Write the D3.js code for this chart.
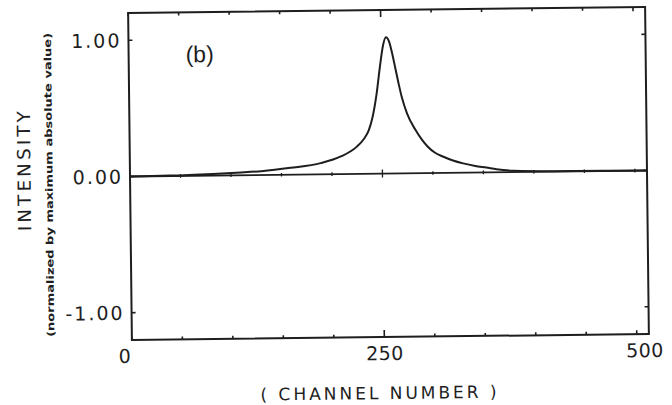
<!DOCTYPE html>
<html>
<head>
<meta charset="utf-8">
<script src="https://cdn.jsdelivr.net/npm/d3@7/dist/d3.min.js"></script>
<style>
  html, body { margin: 0; padding: 0; background: #fff; }
  svg { display: block; }
</style>
</head>
<body>
<svg id="chart" width="672" height="405"></svg>
<script>
// Spectrum (b): intensity per channel, normalised by the maximum absolute value
const channels  = [0, 40, 82, 110, 130, 159, 189, 209, 225, 232, 237, 241, 245, 249, 252, 255, 258, 261, 264, 267, 270, 275, 283, 290, 295, 302, 310, 320, 330, 342, 353, 363, 380, 420, 470, 512];
const intensity = [0, 0.003, 0.012, 0.02, 0.028, 0.05, 0.082, 0.129, 0.20, 0.255, 0.32, 0.42, 0.58, 0.80, 0.94, 1.0, 0.97, 0.88, 0.77, 0.66, 0.56, 0.44, 0.32, 0.24, 0.195, 0.15, 0.12, 0.09, 0.068, 0.048, 0.035, 0.022, 0.01, 0.003, 0.001, 0];

// Axis ticks and labels
const xMinorTicks = [0, 50, 100, 150, 200, 250, 300, 350, 400, 450, 500];
const xLabelTicks = [0, 250, 500];
const yTicks      = [1, 0, -1];
const yTickLabels = ["1.00", "0.00", "-1.00"];
const panelLabel  = "(b)";
const xTitle      = "( CHANNEL NUMBER )";
const yTitle      = "INTENSITY";
const ySubtitle   = "(normalized by maximum absolute value)";

const ink = "#1e1e1e";
const font = "'DejaVu Sans', sans-serif";

const svg = d3.select("#chart");
const plot = { left: 130, right: 647, top: 10, bottom: 337 };

const x = d3.scaleLinear().domain([0, 512]).range([plot.left, plot.right]);
const y = d3.scaleLinear().domain([-1.2, 1.2]).range([plot.bottom, plot.top]);
// label positions along the bottom edge as the plotter set them
const xLab = d3.scaleLinear().domain([0, 500]).range([x(0) - 7, x(500) + 8]);

// the whole sheet sits slightly tilted
const g = svg.append("g")
  .attr("transform", `rotate(-0.66, ${(plot.left + plot.right) / 2}, ${y(0)})`);

// frame
g.append("rect")
  .attr("x", plot.left).attr("y", plot.top)
  .attr("width", plot.right - plot.left).attr("height", plot.bottom - plot.top)
  .attr("fill", "none").attr("stroke", ink).attr("stroke-width", 2);

// inward ticks on bottom and top edges
const tickLen = d => d === 250 ? 7 : (d === 500 ? 4 : 3);
g.append("g").selectAll("line").data(xMinorTicks).join("line")
  .attr("x1", d => x(d)).attr("x2", d => x(d))
  .attr("y1", plot.bottom).attr("y2", d => plot.bottom - tickLen(d))
  .attr("stroke", ink).attr("stroke-width", 1.6);
g.append("g").selectAll("line").data(xMinorTicks).join("line")
  .attr("x1", d => x(d)).attr("x2", d => x(d))
  .attr("y1", plot.top).attr("y2", d => plot.top + tickLen(d))
  .attr("stroke", ink).attr("stroke-width", 1.6);

// inward ticks on left and right edges
g.append("g").selectAll("line").data(yTicks).join("line")
  .attr("x1", plot.left).attr("x2", plot.left + 4)
  .attr("y1", d => y(d)).attr("y2", d => y(d))
  .attr("stroke", ink).attr("stroke-width", 1.6);
g.append("g").selectAll("line").data(yTicks).join("line")
  .attr("x1", plot.right).attr("x2", plot.right - 4)
  .attr("y1", d => y(d)).attr("y2", d => y(d))
  .attr("stroke", ink).attr("stroke-width", 1.6);

// zero line with its small ticks
g.append("line")
  .attr("x1", plot.left).attr("x2", plot.right)
  .attr("y1", y(0)).attr("y2", y(0))
  .attr("stroke", ink).attr("stroke-width", 1.8);
g.append("g").selectAll("line").data(xMinorTicks.filter(d => d > 0)).join("line")
  .attr("x1", d => x(d)).attr("x2", d => x(d))
  .attr("y1", d => y(0) - (d === 250 ? 4 : 1.8))
  .attr("y2", d => y(0) + (d === 250 ? 4 : 1.8))
  .attr("stroke", ink).attr("stroke-width", 1.3);

// spectrum curve
const line = d3.line()
  .x((d, i) => x(channels[i]))
  .y(d => y(d))
  .curve(d3.curveMonotoneX);
g.append("path")
  .datum(intensity)
  .attr("d", line)
  .attr("fill", "none").attr("stroke", ink)
  .attr("stroke-width", 2).attr("stroke-linejoin", "round");

// y tick labels
g.append("g").selectAll("text").data(yTicks).join("text")
  .attr("x", plot.left - 7)
  .attr("y", d => y(d) + 7)
  .attr("text-anchor", "end")
  .attr("font-family", font).attr("font-size", 19)
  .attr("letter-spacing", 2)
  .attr("fill", ink)
  .text((d, i) => yTickLabels[i]);

// x tick labels
g.append("g").selectAll("text").data(xLabelTicks).join("text")
  .attr("x", d => xLab(d))
  .attr("y", 360)
  .attr("text-anchor", "middle")
  .attr("font-family", font).attr("font-size", 19)
  .attr("letter-spacing", 0.5)
  .attr("fill", ink)
  .text(d => d);

// x title
g.append("text")
  .attr("x", 258).attr("y", 399)
  .attr("textLength", 236).attr("lengthAdjust", "spacing")
  .attr("font-family", font).attr("font-size", 17)
  .attr("fill", ink)
  .text(xTitle);

// y title and its note
g.append("text")
  .attr("transform", "translate(30.5,167) rotate(-90)")
  .attr("text-anchor", "middle")
  .attr("textLength", 120).attr("lengthAdjust", "spacing")
  .attr("font-family", font).attr("font-size", 18)
  .attr("fill", ink)
  .text(yTitle);
g.append("text")
  .attr("transform", "translate(52.5,181) rotate(-90)")
  .attr("text-anchor", "middle")
  .attr("textLength", 304).attr("lengthAdjust", "spacingAndGlyphs")
  .attr("font-family", font).attr("font-size", 10).attr("font-weight", "bold")
  .attr("fill", ink)
  .text(ySubtitle);

// panel label
g.append("text")
  .attr("x", 187).attr("y", 60)
  .attr("font-family", "'Liberation Sans', sans-serif").attr("font-size", 23)
  .attr("fill", ink)
  .text(panelLabel);
</script>
</body>
</html>
